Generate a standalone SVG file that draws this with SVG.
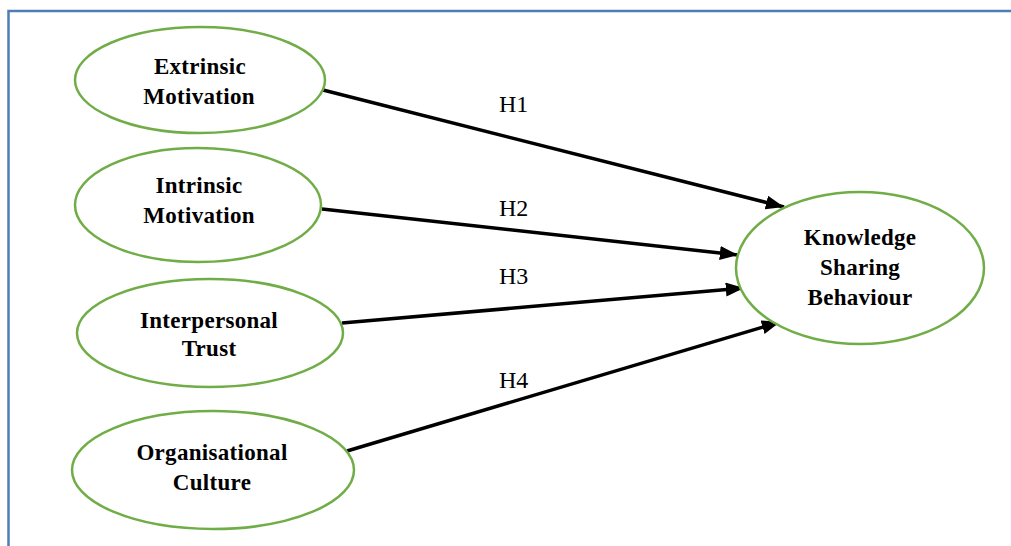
<svg xmlns="http://www.w3.org/2000/svg" width="1011" height="546" viewBox="0 0 1011 546">
<style>
.node{fill:#fff;stroke:#70AD47;stroke-width:2.5}
.lbl{font-family:'Liberation Serif','Times New Roman',Times,serif;font-weight:700;font-size:23px;letter-spacing:0.3px;text-anchor:middle;fill:#000}
.h{font-family:'Liberation Serif','Times New Roman',Times,serif;font-size:24px;fill:#000}
.edge{stroke:#000;stroke-width:3.5;fill:none}
</style>
<defs>
<marker id="arr" markerWidth="5.2" markerHeight="4" refX="5.2" refY="2" orient="auto" markerUnits="strokeWidth">
<path d="M0,0 L5.2,2 L0,4 Z" fill="#000"/>
</marker>
</defs>
<rect x="8.5" y="11" width="1005" height="560" fill="#fff" stroke="#4F7DB5" stroke-width="2.5"/>
<g id="connectors">
<line class="edge" x1="323" y1="90" x2="784" y2="207" marker-end="url(#arr)"/>
<line class="edge" x1="322" y1="209" x2="738" y2="255" marker-end="url(#arr)"/>
<line class="edge" x1="342" y1="323" x2="744" y2="288" marker-end="url(#arr)"/>
<line class="edge" x1="347" y1="451" x2="780" y2="322" marker-end="url(#arr)"/>
<text class="h" x="499" y="112">H1</text>
<text class="h" x="499" y="216">H2</text>
<text class="h" x="499" y="284">H3</text>
<text class="h" x="499" y="388">H4</text>
</g>
<g id="extrinsic">
<ellipse class="node" cx="200" cy="80" rx="125" ry="53"/>
<text class="lbl" x="200" y="74">Extrinsic</text>
<text class="lbl" x="199" y="104">Motivation</text>
</g>
<g id="intrinsic">
<ellipse class="node" cx="198" cy="205" rx="123" ry="57"/>
<text class="lbl" x="199" y="193">Intrinsic</text>
<text class="lbl" x="199" y="223">Motivation</text>
</g>
<g id="trust">
<ellipse class="node" cx="210" cy="333" rx="133" ry="54"/>
<text class="lbl" x="209" y="328">Interpersonal</text>
<text class="lbl" x="209" y="356">Trust</text>
</g>
<g id="culture">
<ellipse class="node" cx="213" cy="470" rx="141" ry="59"/>
<text class="lbl" x="212" y="460">Organisational</text>
<text class="lbl" x="212" y="490">Culture</text>
</g>
<g id="ksb">
<ellipse class="node" cx="860" cy="268" rx="124" ry="76"/>
<text class="lbl" x="860" y="245">Knowledge</text>
<text class="lbl" x="860" y="275">Sharing</text>
<text class="lbl" x="860" y="305">Behaviour</text>
</g>
</svg>
